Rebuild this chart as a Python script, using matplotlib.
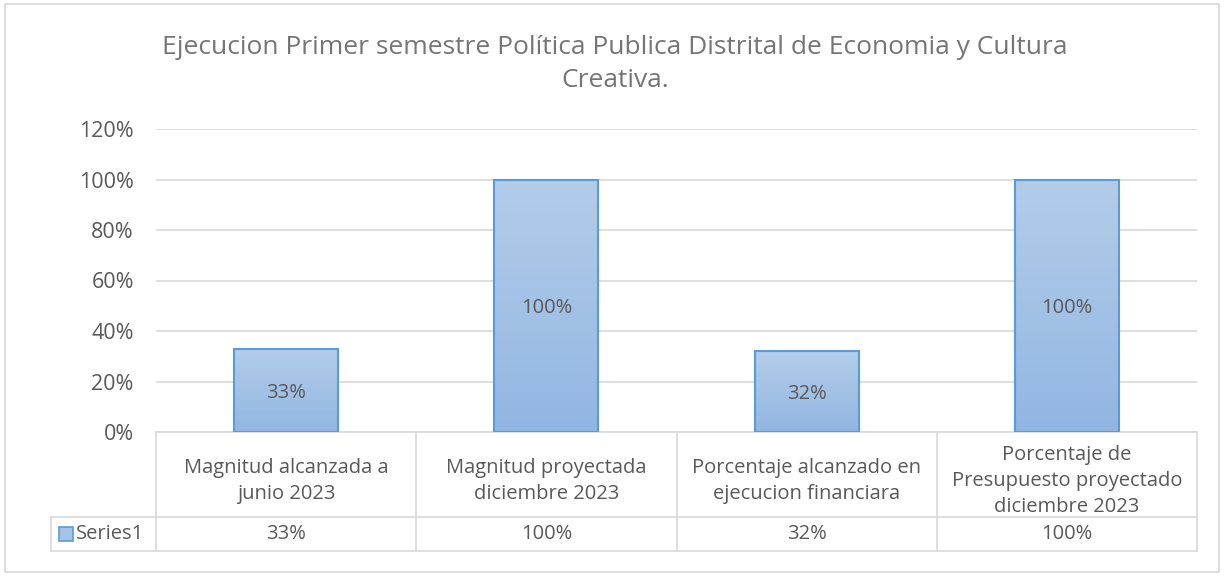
import numpy as np
import matplotlib.pyplot as plt
from matplotlib.patches import Rectangle
from matplotlib.colors import LinearSegmentedColormap
from matplotlib.transforms import blended_transform_factory

# chart data
categories = ["Magnitud alcanzada a\njunio 2023",
              "Magnitud proyectada\ndiciembre 2023",
              "Porcentaje alcanzado en\nejecucion financiara",
              "Porcentaje de\nPresupuesto proyectado\ndiciembre 2023"]
values = [33, 100, 32, 100]
value_labels = ["33%", "100%", "32%", "100%"]
yticks = [0, 20, 40, 60, 80, 100, 120]
series_name = "Series1"
title = "Ejecucion Primer semestre Política Publica Distrital de Economia y Cultura\nCreativa."

plt.rcParams['font.family'] = ['Open Sans', 'DejaVu Sans']
text_color = "#595959"
title_color = "#757575"
grid_color = "#d9d9d9"
edge_color = "#5b9bd5"

W, H = 1224, 576
fig = plt.figure(figsize=(W / 100, H / 100), dpi=100)

# outer chart border
fig.patches.append(Rectangle((5 / W, 4 / H), 1214 / W, 568 / H, transform=fig.transFigure,
                             fill=False, edgecolor=grid_color, linewidth=1.2))

left, right, top, bottom = 156, 1197, 129, 432
ax = fig.add_axes([left / W, 1 - bottom / H, (right - left) / W, (bottom - top) / H])

x = np.arange(len(categories))
bars = ax.bar(x, values, width=0.4, color="none", edgecolor=edge_color, linewidth=1.5, zorder=3)

# light gradient fill like the office chart
grad = np.linspace(0, 1, 100).reshape(-1, 1)
cmap = LinearSegmentedColormap.from_list("bar", ["#92b6e2", "#b3cde9"])
for b in bars:
    x0, w, h = b.get_x(), b.get_width(), b.get_height()
    im = ax.imshow(grad, cmap=cmap, extent=(x0, x0 + w, 0, h), origin="lower",
                   aspect="auto", zorder=2)
    im.set_clip_path(b)

for b, lab in zip(bars, value_labels):
    ax.text(b.get_x() + b.get_width() / 2, b.get_height() / 2, lab, ha="center",
            va="center_baseline", fontsize=14.5, color=text_color, zorder=4)

ax.set_xlim(-0.5, len(categories) - 0.5)
ax.set_ylim(0, 120)
ax.set_yticks(yticks)
ax.set_yticklabels([f"{t}%" for t in yticks])
ax.tick_params(axis="y", length=0, pad=16, labelsize=15.5, labelcolor=text_color)
ax.set_xticks([])
ax.grid(axis="y", color=grid_color, linewidth=1.2, zorder=0)
ax.set_axisbelow(True)
for s in ["top", "right", "left"]:
    ax.spines[s].set_visible(False)
ax.spines["bottom"].set_color(grid_color)
ax.spines["bottom"].set_linewidth(1.2)

# data table below the axis
px = (bottom - top)
row1 = (bottom - 517) / px
row2 = (bottom - 551) / px
label_y = (bottom - 481) / px
leftcol = (51 - left) / ((right - left) / len(categories)) - 0.5
tr = blended_transform_factory(ax.transData, ax.transAxes)
lkw = dict(color=grid_color, linewidth=1.2, transform=tr, clip_on=False)
for xb in np.arange(len(categories) + 1) - 0.5:
    ax.plot([xb, xb], [0, row2], **lkw)
ax.plot([leftcol, leftcol], [row1, row2], **lkw)
ax.plot([leftcol, len(categories) - 0.5], [row1, row1], **lkw)
ax.plot([leftcol, len(categories) - 0.5], [row2, row2], **lkw)

for xi, cat, lab in zip(x, categories, value_labels):
    ax.text(xi, label_y, cat, transform=tr, ha="center", va="center", fontsize=14.5,
            color=text_color, linespacing=1.42)
    ax.text(xi, (row1 + row2) / 2, lab, transform=tr, ha="center", va="center", fontsize=14.5,
            color=text_color)

# legend key in the table
ax.add_patch(Rectangle((leftcol + 0.031, (row1 + row2) / 2 - 0.023), 0.055, 0.046, transform=tr,
                       facecolor="#a5c3e7", edgecolor=edge_color, linewidth=1.2, clip_on=False))
ax.text(leftcol + 0.097, (row1 + row2) / 2, series_name, transform=tr, ha="left", va="center",
        fontsize=14.5, color=text_color)

fig.text(615 / W, 1 - 64 / H, title, ha="center", va="center", fontsize=19,
         color=title_color, linespacing=1.4)

fig.savefig("out.png", dpi=100)
